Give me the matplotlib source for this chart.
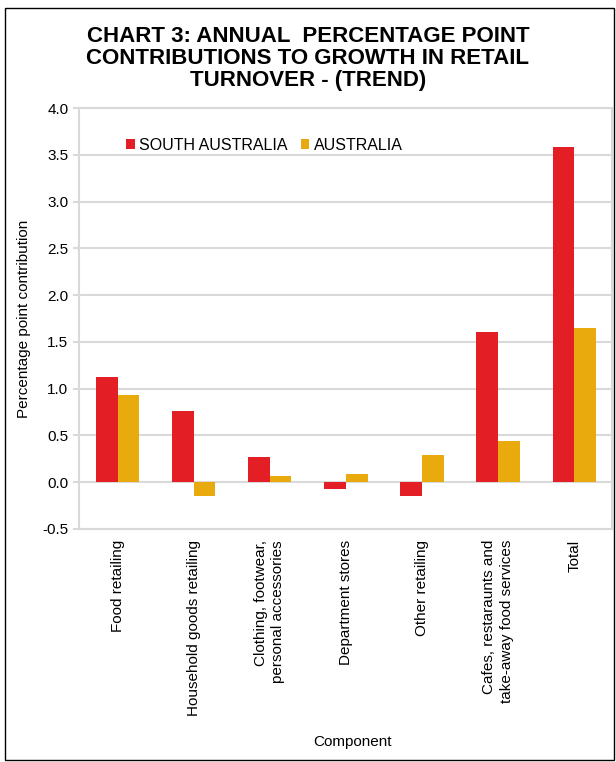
import matplotlib
matplotlib.use('Agg')
import matplotlib.pyplot as plt
from matplotlib.patches import Rectangle
import numpy as np

plt.rcParams['font.family'] = ['Liberation Sans', 'DejaVu Sans']

components = ['Food retailing', 'Household goods retailing',
              'Clothing, footwear,\npersonal accessories', 'Department stores',
              'Other retailing', 'Cafes, restaraunts and\ntake-away food services', 'Total']
south_australia = [1.12, 0.76, 0.27, -0.07, -0.15, 1.61, 3.59]
australia = [0.93, -0.15, 0.07, 0.085, 0.29, 0.44, 1.65]
y_ticks = [-0.5, 0.0, 0.5, 1.0, 1.5, 2.0, 2.5, 3.0, 3.5, 4.0]

RED = '#E31E24'
GOLD = '#E9AA0D'
GRID = '#D9D9D9'

fig = plt.figure(figsize = (6.16, 7.62), dpi = 100)
ax = fig.add_axes([0.129, 0.306, 0.865, 0.552])

x = np.arange(len(components))
w = 0.285
ax.bar(x - w / 2, south_australia, w, color = RED, label = 'SOUTH AUSTRALIA', zorder = 3)
ax.bar(x + w / 2, australia, w, color = GOLD, label = 'AUSTRALIA', zorder = 3)

ax.set_xlim(-0.5, len(components) - 0.5)
ax.set_ylim(-0.5, 4.0)
ax.set_yticks(y_ticks)
ax.set_yticklabels([f'{v:.1f}' for v in y_ticks], fontsize = 11)
ax.grid(axis = 'y', color = GRID, linewidth = 1.5, zorder = 0)
ax.set_xticks(x)
ax.set_xticklabels(components, rotation = 90, fontsize = 11, va = 'top', ha = 'center',
                   multialignment = 'right', linespacing = 1.3)
ax.tick_params(axis = 'x', length = 0, pad = 8)
ax.tick_params(axis = 'y', length = 4, color = GRID, width = 1.5, pad = 4)
for side in ax.spines.values():
    side.set_color(GRID)
    side.set_linewidth(1.5)

ax.set_ylabel('Percentage point contribution', fontsize = 11, labelpad = 8)
fig.text(0.572, 0.026, 'Component', fontsize = 11, ha = 'center', va = 'center')

ax.legend(loc = 'center left', bbox_to_anchor = (0.075, 0.912), ncol = 2, frameon = False,
          fontsize = 11.5, handlelength = 0.55, handleheight = 0.55, handletextpad = 0.3,
          columnspacing = 0.8, borderaxespad = 0)

fig.text(0.5, 0.9235, 'CHART 3: ANNUAL  PERCENTAGE POINT\nCONTRIBUTIONS TO GROWTH IN RETAIL\nTURNOVER - (TREND)',
         ha = 'center', va = 'center', fontsize = 16, fontweight = 'bold', linespacing = 1.08)

fig.patches.append(Rectangle((0.008, 0.003), 0.988, 0.986, transform = fig.transFigure,
                             fill = False, edgecolor = 'black', linewidth = 1))

fig.savefig('out.png', dpi = 100)
